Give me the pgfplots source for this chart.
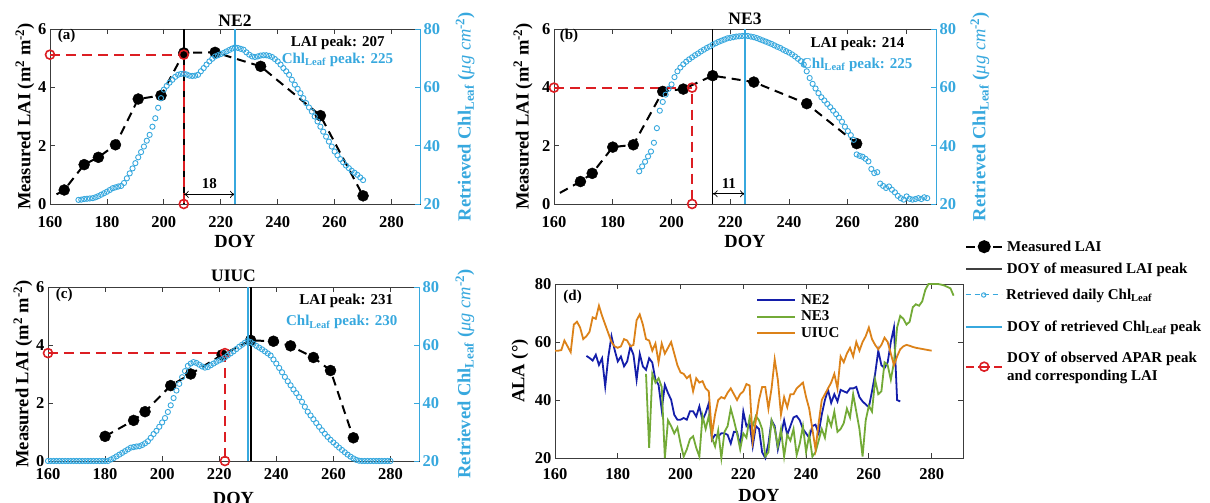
\documentclass[border=0pt]{standalone}
\usepackage{fontspec}
\setmainfont{Liberation Serif}
\usepackage{pgfplots}
\pgfplotsset{compat=1.18}
\usepackage{pgfplotstable}
\usetikzlibrary{arrows.meta}

\definecolor{chl}{RGB}{55,168,222}
\definecolor{apar}{RGB}{220,30,35}
\definecolor{ne2c}{RGB}{20,30,170}
\definecolor{ne3c}{RGB}{115,170,55}
\definecolor{uiucc}{RGB}{220,130,25}
\definecolor{spine}{RGB}{60,60,60}

% font sizes (1pt of the page = 1 unit of the layout grid)
\newcommand\tkf{\fontsize{16.5}{18}\selectfont\bfseries}
\newcommand\lbf{\fontsize{18.5}{20}\selectfont\bfseries}
\newcommand\ttf{\fontsize{17.5}{20}\selectfont\bfseries}
\newcommand\anf{\fontsize{15}{17}\selectfont\bfseries}
\newcommand\lgf{\fontsize{15}{18}\selectfont\bfseries}

% ---------------- measured LAI ----------------
\pgfplotstableread{
doy lai
165 0.48
172 1.35
177 1.60
183 2.03
191 3.60
199 3.72
207 5.18
218 5.20
234 4.72
255 3.03
270 0.28
}\laiA
\pgfplotstableread{
doy lai
162.3 0.33
165 0.48
172 1.35
177 1.60
183 2.03
191 3.60
199 3.72
207 5.18
218 5.20
234 4.72
255 3.03
270 0.28
}\laiAline
\pgfplotstableread{
doy lai
169 0.77
173 1.05
180 1.95
187 2.03
197 3.86
204 3.94
214 4.40
228 4.18
246 3.44
263 2.07
}\laiB
\pgfplotstableread{
doy lai
162 0.38
169 0.77
173 1.05
180 1.95
187 2.03
197 3.86
204 3.94
214 4.40
228 4.18
246 3.44
263 2.07
}\laiBline
\pgfplotstableread{
doy lai
180 0.85
190 1.40
194 1.70
203 2.60
210 3.00
221 3.66
231 4.16
239 4.13
245 3.97
253 3.57
259 3.12
267 0.80
}\laiC

% ---------------- retrieved daily leaf chlorophyll ----------------
\pgfplotstableread{
doy chl
170 21.4
171 21.5
172 21.7
173 21.8
174 21.9
175 22.0
176 22.3
177 22.7
178 23.2
179 23.7
180 24.2
181 24.8
182 25.4
183 25.7
184 26.0
185 26.2
186 27.2
187 28.8
188 30.5
189 32.2
190 34.0
191 36.0
192 37.8
193 39.7
194 41.7
195 43.7
196 46.5
197 49.4
198 53.0
199 56.3
200 59.2
201 60.5
202 61.6
203 62.6
204 63.6
205 64.3
206 64.6
207 64.7
208 64.4
209 64.0
210 63.9
211 64.0
212 64.3
213 65.5
214 66.6
215 67.8
216 68.9
217 69.8
218 70.6
219 71.0
220 71.4
221 71.8
222 72.3
223 72.8
224 73.3
225 73.7
226 73.5
227 73.2
228 72.9
229 72.0
230 71.2
231 70.6
232 70.4
233 70.6
234 70.9
235 71.0
236 71.0
237 70.8
238 70.4
239 69.7
240 68.9
241 67.8
242 66.6
243 65.5
244 64.3
245 62.6
246 60.9
247 59.5
248 58.0
249 56.3
250 54.6
251 53.1
252 51.7
253 50.0
254 48.3
255 46.5
256 44.8
257 43.1
258 41.4
259 39.7
260 38.0
261 36.7
262 35.4
263 34.3
264 33.2
265 32.3
266 31.4
267 30.7
268 30.0
269 29.1
270 28.2
}\chlA
\pgfplotstableread{
doy chl
189 31.2
190 32.9
191 34.5
192 36.3
193 38.0
194 41.0
195 46.0
196 52.0
197 55.0
198 57.5
199 59.5
200 61.0
201 63.5
202 65.5
203 66.8
204 67.9
205 68.8
206 69.6
207 70.3
208 71.0
209 71.6
210 72.3
211 72.9
212 73.5
213 74.0
214 74.6
215 75.1
216 75.6
217 76.0
218 76.4
219 76.8
220 77.0
221 77.2
222 77.4
223 77.5
224 77.6
225 77.7
226 77.6
227 77.4
228 77.2
229 76.9
230 76.5
231 76.1
232 75.7
233 75.3
234 74.9
235 74.4
236 73.9
237 73.5
238 72.9
239 72.4
240 71.9
241 71.3
242 70.6
243 69.8
244 69.0
245 67.8
246 65.5
247 63.2
248 61.2
249 59.6
250 58.0
251 56.6
252 55.5
253 54.3
254 53.2
255 52.0
256 50.8
257 49.6
258 48.2
259 46.5
260 45.0
261 43.6
262 42.0
263 37.0
264 36.5
265 36.2
266 35.5
267 34.6
268 32.0
269 30.6
270 30.9
271 27.0
272 26.2
273 25.5
274 26.0
275 24.9
276 24.0
277 22.8
278 22.0
279 21.5
280 22.6
281 21.8
282 21.5
283 21.7
284 22.0
285 21.7
286 22.3
287 22.0
}\chlB
\pgfplotstableread{
doy chl
160 20.0
161 20.0
162 20.0
163 20.0
164 20.0
165 20.0
166 20.0
167 20.0
168 20.0
169 20.0
170 20.0
171 20.0
172 20.0
173 20.0
174 20.0
175 20.0
176 20.0
177 20.0
178 20.0
179 20.0
180 20.0
181 20.0
182 20.5
183 21.0
184 21.6
185 22.2
186 22.8
187 23.4
188 24.0
189 24.6
190 24.8
191 25.0
192 25.1
193 25.5
194 26.1
195 26.8
196 28.0
197 29.3
198 30.4
199 31.8
200 33.3
201 34.8
202 36.9
203 39.2
204 41.7
205 44.3
206 46.6
207 48.9
208 51.0
209 52.8
210 53.6
211 54.1
212 53.8
213 53.2
214 52.6
215 52.2
216 52.4
217 53.0
218 53.6
219 54.2
220 54.7
221 55.1
222 55.7
223 56.4
224 57.1
225 57.8
226 58.6
227 59.4
228 60.1
229 60.8
230 61.4
231 61.0
232 60.4
233 59.7
234 59.1
235 58.5
236 57.8
237 57.1
238 56.4
239 55.0
240 53.6
241 52.1
242 50.6
243 49.0
244 47.5
245 46.1
246 44.7
247 43.4
248 42.0
249 40.4
250 38.7
251 37.0
252 35.7
253 34.4
254 33.1
255 31.8
256 30.6
257 29.4
258 28.3
259 27.3
260 26.4
261 25.5
262 24.6
263 23.8
264 23.0
265 22.2
266 21.5
267 20.9
268 20.4
269 20.1
270 20.0
271 20.0
272 20.0
273 20.0
274 20.0
275 20.0
276 20.0
277 20.0
278 20.0
279 20.0
280 20.0
}\chlC

% ---------------- average leaf angle ----------------
\pgfplotstableread{
doy ala
170 55.2
171 54.5
172 53.6
173 55.6
174 52.1
175 54.4
176 44.7
177 55.0
178 62.0
179 57.3
180 53.3
181 55.0
182 51.6
183 53.3
184 58.4
185 55.6
186 47.0
187 55.9
188 51.6
189 50.4
190 54.4
191 52.9
192 47.0
193 45.2
194 36.6
195 45.2
196 42.4
197 40.1
198 34.9
199 33.2
200 33.2
201 33.8
202 33.2
203 36.1
204 36.1
205 34.3
206 37.8
207 33.0
208 35.5
209 38.9
210 26.3
211 28.0
212 27.5
213 28.5
214 28.5
215 28.0
216 25.0
217 29.0
218 29.0
219 24.0
220 36.0
221 31.0
222 32.0
223 24.0
224 31.0
225 30.0
226 22.0
227 20.0
228 25.0
229 33.0
230 31.0
231 23.0
232 28.0
233 33.0
234 28.0
235 31.0
236 34.0
237 34.5
238 33.0
239 30.0
240 28.5
241 27.0
242 31.0
243 31.5
244 28.5
245 35.0
246 40.0
247 43.5
248 39.0
249 42.0
250 39.5
251 43.5
252 43.0
253 42.5
254 44.0
255 44.0
256 44.5
257 41.0
258 39.5
259 38.5
260 37.5
261 43.0
262 49.0
263 57.0
264 52.0
265 51.0
266 53.0
267 60.0
268 65.0
269 40.0
270 39.5
}\alaA
\pgfplotstableread{
doy ala
189 49.0
190 23.5
191 49.0
192 46.0
193 47.5
194 44.5
195 20.0
196 33.0
197 31.0
198 28.5
199 30.5
200 25.0
201 20.5
202 23.0
203 26.5
204 27.5
205 23.5
206 20.5
207 34.5
208 30.0
209 34.5
210 27.0
211 24.0
212 29.5
213 20.0
214 29.0
215 31.0
216 37.0
217 33.0
218 28.5
219 23.0
220 28.5
221 27.0
222 34.0
223 31.0
224 34.5
225 33.0
226 30.0
227 20.5
228 22.0
229 33.0
230 30.0
231 24.0
232 30.0
233 20.5
234 28.0
235 26.0
236 30.0
237 21.0
238 25.0
239 31.0
240 22.0
241 28.0
242 20.5
243 22.0
244 26.0
245 30.0
246 27.0
247 34.0
248 31.0
249 36.0
250 29.0
251 30.0
252 32.0
253 37.0
254 34.0
255 42.0
256 36.0
257 30.0
258 20.5
259 33.0
260 38.0
261 36.0
262 47.0
263 42.0
264 43.0
265 53.0
266 52.0
267 47.0
268 53.0
269 65.0
270 69.0
271 68.0
272 66.0
273 67.0
274 72.0
275 73.0
276 72.5
277 74.0
278 78.0
279 80.0
280 80.0
281 80.0
282 80.0
283 79.8
284 79.5
285 79.0
286 78.5
287 76.0
}\alaB
\pgfplotstableread{
doy ala
160 57.0
161 57.0
162 57.2
163 60.5
164 58.5
165 56.5
166 66.0
167 67.0
168 65.0
169 61.0
170 62.0
171 63.5
172 68.5
173 68.0
174 72.5
175 69.0
176 66.0
177 63.0
178 60.0
179 58.5
180 58.0
181 58.5
182 61.0
183 60.5
184 58.5
185 59.0
186 67.5
187 69.5
188 66.0
189 61.0
190 60.5
191 57.0
192 59.5
193 53.0
194 59.5
195 56.0
196 58.0
197 60.0
198 56.0
199 52.0
200 49.5
201 49.0
202 47.5
203 48.5
204 43.0
205 47.5
206 46.0
207 46.5
208 44.0
209 43.0
210 28.0
211 35.0
212 40.0
213 41.0
214 40.5
215 42.5
216 44.0
217 42.0
218 40.0
219 42.0
220 43.0
221 45.5
222 45.0
223 26.0
224 33.0
225 40.0
226 44.5
227 44.5
228 37.0
229 44.0
230 54.0
231 47.0
232 35.0
233 41.0
234 37.5
235 42.0
236 42.0
237 44.0
238 45.0
239 46.0
240 41.0
241 37.0
242 30.0
243 23.0
244 32.0
245 40.0
246 42.0
247 44.0
248 46.0
249 49.0
250 44.0
251 55.0
252 53.0
253 56.0
254 58.0
255 55.0
256 60.0
257 57.0
258 60.0
259 62.0
260 65.0
261 61.0
262 59.0
263 57.5
264 59.0
265 61.5
266 60.0
267 56.0
268 52.0
269 55.0
270 57.5
271 58.5
272 59.0
273 58.7
274 58.3
275 58.0
276 57.8
277 57.6
278 57.4
279 57.2
280 57.0
}\alaC

\pgfplotsset{
  base panel/.style={
    scale only axis, xmin=160, xmax=290,
    xtick={160,180,...,280},
    tick align=inside, major tick length=5pt,
    axis line style={spine, line width=0.8pt},
    tick style={spine, line width=0.8pt},
    ticklabel style={font=\tkf},
    /pgf/number format/assume math mode=true,
    clip=false,
    xlabel={DOY},
    every axis x label/.style={at={(axis description cs:0.5,0)}, anchor=center, yshift=-37.5pt, font=\lbf},
  },
  % left axis: measured LAI; #1 = label offset, #2 = title lift
  lai axis/.style 2 args={
    base panel, ymin=0, ymax=6, ytick={0,2,4,6},
    ytick pos=left, xtick pos=both,
    ylabel={Measured LAI (m\textsuperscript{2} m\textsuperscript{-2})},
    every axis y label/.style={at={(axis description cs:#1,0.5)}, rotate=90, anchor=center, font=\lbf},
    every axis title/.style={at={(axis description cs:0.5,1)}, anchor=base, yshift=#2, font=\ttf},
  },
  % right axis: retrieved chlorophyll
  chl axis/.style={
    scale only axis, xmin=160, xmax=290, ymin=20, ymax=80, ytick={20,40,60,80},
    axis x line=none, axis y line*=right,
    tick align=inside, major tick length=5pt,
    y axis line style={chl, line width=0.9pt},
    ytick style={chl, line width=0.8pt},
    yticklabel style={font=\tkf, text=chl},
    /pgf/number format/assume math mode=true,
    clip=false,
    ylabel={Retrieved Chl\textsubscript{Leaf} ({\mdseries\itshape μg cm}\textsuperscript{-2})},
    every axis y label/.style={at={(axis description cs:#1,0.5)}, rotate=90, anchor=center, font=\lbf, text=chl},
  },
  lailine/.style={black, line width=2pt, dash pattern=on 9pt off 6pt},
  laidots/.style={only marks, mark=*, mark size=5.5pt, black},
  chlmarks/.style={only marks, mark=o, mark size=2.6pt, chl, mark options={line width=0.9pt}},
  aparline/.style={apar, line width=2pt, dash pattern=on 10pt off 6pt, mark=o, mark size=4.5pt, mark options={solid, line width=1.6pt}},
  % one legend row: a tiny hidden axis whose legend is centred on its origin
  legrow/.style={hide axis, scale only axis, width=1pt, height=1pt,
    xmin=0, xmax=1, ymin=0, ymax=1, anchor=south west,
    legend style={at={(0,0)}, anchor=west, draw=none, fill=none,
      inner sep=0pt, cells={align=left}},
    legend cell align=left},
  keyrow/.style={legrow, legend style={font=\lgf},
    legend image code/.code={\draw[mark repeat=2,mark phase=2,##1]
      plot coordinates {(0pt,0pt) (18pt,0pt) (36pt,0pt)};}},
  siterow/.style={legrow, legend style={font=\anf},
    legend image code/.code={\draw[##1] (0pt,0pt) -- (38pt,0pt);}},
}

\begin{document}
\begin{tikzpicture}
\useasboundingbox (0,0) rectangle (1210pt,503pt);

% ======================= (a) NE2 =======================
\begin{axis}[lai axis={-0.0676}{2.5pt}, at={(50pt,299pt)}, anchor=south west,
  width=370pt, height=175pt, title={NE2}, xticklabel style={yshift=-8.5pt}]
  \addplot[lailine] table[x=doy, y=lai] {\laiAline};
  \addplot[laidots] table[x=doy, y=lai] {\laiA};
  \addplot[black, line width=1.6pt] coordinates {(207,0) (207,6)};
  \addplot[aparline] coordinates {(160,5.12) (207,5.12) (207,0)};
  \draw[{To[length=5pt,width=7pt]}-{To[length=5pt,width=7pt]}, line width=0.7pt]
    (axis cs:207,0.33) -- (axis cs:225,0.33);
  \node[font=\anf] at (axis cs:216,0.70) {18};
  \node[font=\anf, anchor=west] at (rel axis cs:0.012,0.962) {(a)};
  \node[font=\anf, anchor=base east] at (axis cs:278.8,5.39) {LAI peak: 207};
  \node[font=\anf, anchor=base east, text=chl] at (axis cs:281.8,4.82) {Chl\textsubscript{Leaf} peak: 225};
\end{axis}
\begin{axis}[chl axis={1.122}, at={(50pt,299pt)}, anchor=south west, width=370pt, height=175pt]
  \addplot[chlmarks] table[x=doy, y=chl] {\chlA};
  \addplot[chl, line width=2pt] coordinates {(225,20) (225,80)};
\end{axis}

% ======================= (b) NE3 =======================
\begin{axis}[lai axis={-0.081}{4.3pt}, at={(554pt,299pt)}, anchor=south west,
  width=382pt, height=175pt, title={NE3}, xticklabel style={yshift=-8.5pt}]
  \addplot[lailine] table[x=doy, y=lai] {\laiBline};
  \addplot[laidots] table[x=doy, y=lai] {\laiB};
  \addplot[black, line width=1.6pt] coordinates {(214,0) (214,6)};
  \addplot[aparline] coordinates {(160,3.99) (207,3.99) (207,0)};
  \draw[{To[length=5pt,width=7pt]}-{To[length=5pt,width=7pt]}, line width=0.7pt]
    (axis cs:214,0.35) -- (axis cs:225,0.35);
  \node[font=\anf] at (axis cs:219.5,0.70) {11};
  \node[font=\anf, anchor=west] at (rel axis cs:0.006,0.958) {(b)};
  \node[font=\anf, anchor=base east] at (axis cs:280.4,5.35) {LAI peak: 214};
  \node[font=\anf, anchor=base east, text=chl] at (axis cs:283.2,4.66) {Chl\textsubscript{Leaf} peak: 225};
\end{axis}
\begin{axis}[chl axis={1.115}, at={(554pt,299pt)}, anchor=south west, width=382pt, height=175pt]
  \addplot[chlmarks] table[x=doy, y=chl] {\chlB};
  \addplot[chl, line width=2pt] coordinates {(225,20) (225,80)};
\end{axis}

% ======================= (c) UIUC =======================
\begin{axis}[lai axis={-0.0674}{5.3pt}, at={(48pt,42pt)}, anchor=south west,
  width=371pt, height=174pt, title={UIUC}, xticklabel style={yshift=-3.5pt}]
  \addplot[lailine] table[x=doy, y=lai] {\laiC};
  \addplot[laidots] table[x=doy, y=lai] {\laiC};
  \addplot[black, line width=2pt] coordinates {(231,0) (231,6)};
  \addplot[aparline] coordinates {(160,3.72) (222,3.72) (222,0)};
  \node[font=\anf, anchor=west] at (rel axis cs:0.012,0.954) {(c)};
  \node[font=\anf, anchor=base east] at (axis cs:282.2,5.38) {LAI peak: 231};
  \node[font=\anf, anchor=base east, text=chl] at (axis cs:283.7,4.66) {Chl\textsubscript{Leaf} peak: 230};
\end{axis}
\begin{axis}[chl axis={1.124}, at={(48pt,42pt)}, anchor=south west, width=371pt, height=174pt]
  \addplot[chlmarks] table[x=doy, y=chl] {\chlC};
  \addplot[chl, line width=2.2pt] coordinates {(230,20) (230,80)};
\end{axis}

% ======================= (d) leaf angle =======================
\begin{axis}[base panel, at={(555pt,45pt)}, anchor=south west, width=408pt, height=174pt,
  ymin=20, ymax=80, ytick={20,40,60,80}, xticklabel style={yshift=-7pt},
  ylabel={ALA (°)},
  every axis y label/.style={at={(axis description cs:-0.086,0.5)}, rotate=90, anchor=center, font=\lbf},
]
  \addplot[ne2c, line width=1.8pt] table[x=doy, y=ala] {\alaA};
  \addplot[ne3c, line width=1.8pt] table[x=doy, y=ala] {\alaB};
  \addplot[uiucc, line width=1.8pt] table[x=doy, y=ala] {\alaC};
  \node[font=\anf, anchor=west] at (rel axis cs:0.012,0.927) {(d)};
\end{axis}
% site key of panel (d)
\begin{axis}[siterow, at={(756pt,203pt)}]
  \addlegendimage{ne2c, line width=1.8pt}
  \addlegendentry{\hspace{3pt}NE2}
\end{axis}
\begin{axis}[siterow, at={(756pt,186.3pt)}]
  \addlegendimage{ne3c, line width=1.8pt}
  \addlegendentry{\hspace{3pt}NE3}
\end{axis}
\begin{axis}[siterow, at={(756pt,169.7pt)}]
  \addlegendimage{uiucc, line width=1.8pt}
  \addlegendentry{\hspace{3pt}UIUC}
\end{axis}

% ======================= shared key of panels (a)-(c) =======================
\begin{axis}[keyrow, at={(965pt,256.3pt)}]
  \addlegendimage{black, line width=2pt, dash pattern=on 9pt off 18pt, mark=*, mark size=5.5pt, mark options={solid}}
  \addlegendentry{\hspace{2pt}Measured LAI}
\end{axis}
\begin{axis}[keyrow, at={(965pt,233.7pt)}]
  \addlegendimage{black!75, line width=1.6pt}
  \addlegendentry{\hspace{2pt}DOY of measured LAI peak}
\end{axis}
\begin{axis}[keyrow, at={(965pt,208pt)}]
  \addlegendimage{chl, line width=1pt, dash pattern=on 5pt off 4pt, mark=o, mark size=2.2pt, mark options={solid}}
  \addlegendentry{\hspace{2pt}Retrieved daily Chl\textsubscript{Leaf}}
\end{axis}
\begin{axis}[keyrow, at={(965pt,176.3pt)}]
  \addlegendimage{chl, line width=2pt}
  \addlegendentry{\hspace{2pt}DOY of retrieved Chl\textsubscript{Leaf} peak}
\end{axis}
\begin{axis}[keyrow, at={(965pt,136.3pt)}]
  \addlegendimage{apar, line width=2pt, dash pattern=on 8pt off 4pt on 12pt off 4pt, mark=o, mark size=4.5pt, mark options={solid, line width=1.6pt}}
  \addlegendentry{\hspace{2pt}DOY of observed APAR peak\\\hspace{2pt}and corresponding LAI}
\end{axis}
\end{tikzpicture}
\end{document}
